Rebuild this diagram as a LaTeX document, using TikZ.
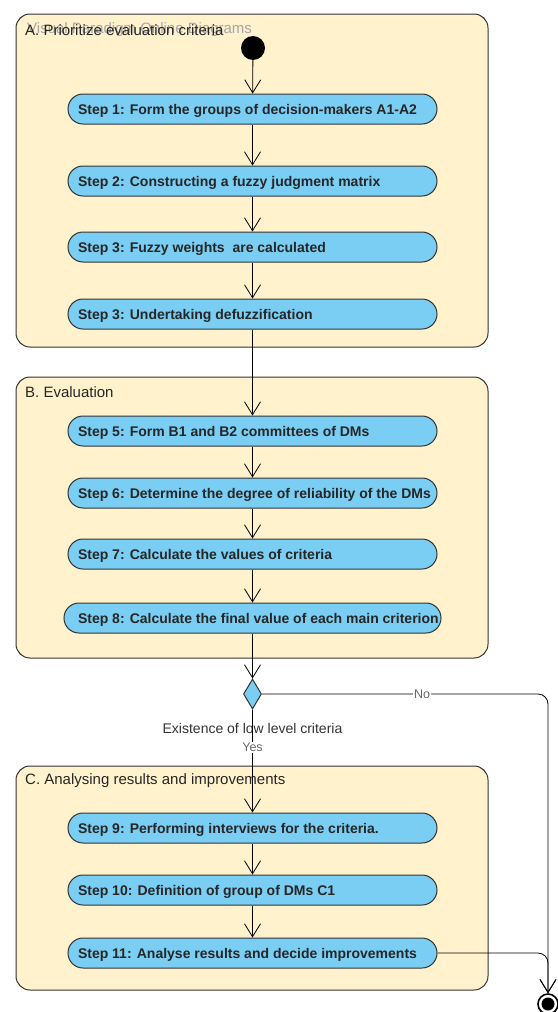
\documentclass[tikz,border=0pt]{standalone}
\usepackage{fontspec}
\setmainfont{Liberation Sans}
\usetikzlibrary{arrows.meta,shapes.geometric}

\definecolor{paneYellow}{HTML}{FFF2CC}
\definecolor{stepBlue}{HTML}{7ACEF4}
\definecolor{edgeGray}{HTML}{333333}

\newcommand{\steptxt}[1]{\makebox[349pt][l]{#1}}

\tikzset{
  pane/.style={draw=edgeGray, fill=paneYellow, line width=1pt, rounded corners=14pt},
  panetitle/.style={anchor=west, inner sep=0pt, font=\fontsize{15}{17}\selectfont, text=black!85},
  stepnode/.style={draw=edgeGray, fill=stepBlue, line width=1pt, rounded corners=15pt,
    minimum width=369pt, minimum height=30pt, inner xsep=10pt, inner ysep=0pt,
    text height=12pt, text depth=1pt,
    font=\fontsize{14}{16}\selectfont\bfseries, text=black!85},
  flow/.style={draw=black, line width=0.8pt, -{Straight Barb[length=13pt,width=16pt]}},
  guard/.style={fill=white, inner sep=1pt, font=\fontsize{12.5}{14}\selectfont, text=black!60},
}

\begin{document}
\begin{tikzpicture}[x=1pt,y=-1pt]
    \useasboundingbox (0,0) rectangle (557,1012);

    % Bereiche A, B, C
    \draw[pane] (16,14) rectangle (488,347);
    \draw[pane] (16,377) rectangle (488,658);
    \draw[pane] (16,766) rectangle (488,990);

    \node[panetitle, text=black!35] (wm) at (27,30) {Visual Paradigm Online Diagrams};
    \node[panetitle] (titleA) at (25,30) {A. Prioritize evaluation criteria};
    \node[panetitle] (titleB) at (25,392) {B. Evaluation};
    \node[panetitle] (titleC) at (25,781) {C. Analysing results and improvements};

    % Start
    \node[circle, fill=black, minimum size=24pt, inner sep=0pt] (start) at (253,48) {};

    % Schritte
    \node[stepnode] (s1) at (252.5,109) {\steptxt{Step 1: Form the groups of decision-makers A1-A2}};
    \node[stepnode] (s2) at (252.5,181) {\steptxt{Step 2: Constructing a fuzzy judgment matrix}};
    \node[stepnode] (s3) at (252.5,247) {\steptxt{Step 3: Fuzzy weights\ \ are calculated}};
    \node[stepnode] (s4) at (252.5,314) {\steptxt{Step 3: Undertaking defuzzification}};

    \node[stepnode] (s5) at (252.5,431) {\steptxt{Step 5: Form B1 and B2 committees of DMs}};
    \node[stepnode] (s6) at (252.5,493) {\steptxt{Step 6: Determine the degree of reliability of the DMs}};
    \node[stepnode] (s7) at (252.5,554) {\steptxt{Step 7: Calculate the values of criteria}};
    \node[stepnode, minimum width=377pt] (s8) at (252.5,618) {\steptxt{Step 8: Calculate the final value of each main criterion}};

    \node[stepnode] (s9) at (252.5,828) {\steptxt{Step 9: Performing interviews for the criteria.}};
    \node[stepnode] (s10) at (252.5,890) {\steptxt{Step 10: Definition of group of DMs C1}};
    \node[stepnode] (s11) at (252.5,953) {\steptxt{Step 11: Analyse results and decide improvements}};

    % Entscheidung
    \node[diamond, draw=edgeGray, fill=stepBlue, line width=1pt, inner sep=0pt,
          minimum width=18pt, minimum height=30pt] (dec) at (252.5,694) {};
    \node[font=\fontsize{14}{16}\selectfont, text=black!80] (declbl) at (252.5,728) {Existence of low level criteria};

    % Ende
    \node[circle, draw=black, line width=1.6pt, fill=white, minimum size=20pt, inner sep=0pt] (end) at (548,1004) {};
    \fill[black] (end.center) circle (6.5);

    % Pfeile
    \draw[flow] (start) -- (s1);
    \draw[flow] (s1) -- (s2);
    \draw[flow] (s2) -- (s3);
    \draw[flow] (s3) -- (s4);
    \draw[flow] (s4) -- (s5);
    \draw[flow] (s5) -- (s6);
    \draw[flow] (s6) -- (s7);
    \draw[flow] (s7) -- (s8);
    \draw[flow] (s8) -- (dec);
    \draw[flow] (dec) -- node[guard, pos=0.37] (yes) {Yes} (s9);
    \draw[flow] (s9) -- (s10);
    \draw[flow] (s10) -- (s11);
    \draw[flow, rounded corners=10pt] (dec.east) -| node[guard, pos=0.28] (no) {No} (end.north);
    \draw[flow, rounded corners=10pt] (s11.east) -| (end.north);
  \end{tikzpicture}
\end{document}
